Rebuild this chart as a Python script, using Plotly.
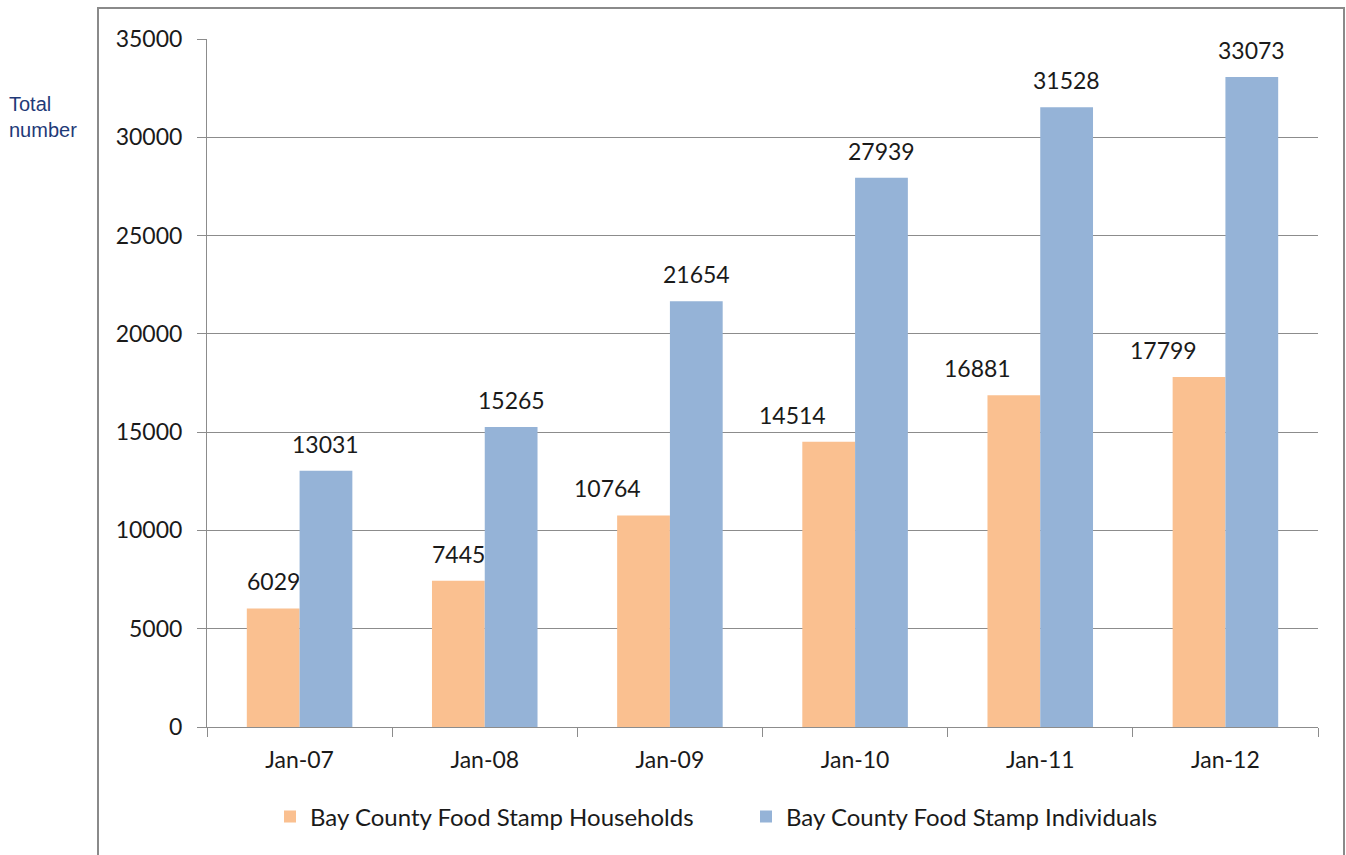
import plotly.graph_objects as go

categories = ["Jan-07", "Jan-08", "Jan-09", "Jan-10", "Jan-11", "Jan-12"]
households = [6029, 7445, 10764, 14514, 16881, 17799]
individuals = [13031, 15265, 21654, 27939, 31528, 33073]
series_names = ["Bay County Food Stamp Households", "Bay County Food Stamp Individuals"]
y_ticks = [0, 5000, 10000, 15000, 20000, 25000, 30000, 35000]

ORANGE = "#FAC090"
BLUE = "#95B3D7"
FONT = "Lato"
TXT = "#1a1a1a"

L, R, T, B = 207, 28, 39, 128
W, H = 1346, 855
pw, ph = W - L - R, H - T - B

fig = go.Figure()
fig.add_trace(go.Bar(x=categories, y=households, name=series_names[0],
                     marker=dict(color=ORANGE, line=dict(width=0))))
fig.add_trace(go.Bar(x=categories, y=individuals, name=series_names[1],
                     marker=dict(color=BLUE, line=dict(width=0))))

bar_px = pw / len(categories) * (1 - 0.43) / 2
annotations = []
for c, v in zip(categories, households):
    s = str(v)
    shift = -bar_px / 2
    if len(s) > 4:
        shift -= 36
    annotations.append(dict(x=c, y=v, text=s, showarrow=False, xref="x", yref="y",
                            xanchor="center", yanchor="bottom", xshift=shift, yshift=11,
                            font=dict(family=FONT, size=23, color=TXT)))
for c, v in zip(categories, individuals):
    annotations.append(dict(x=c, y=v, text=str(v), showarrow=False, xref="x", yref="y",
                            xanchor="center", yanchor="bottom", xshift=bar_px / 2, yshift=11,
                            font=dict(family=FONT, size=23, color=TXT)))
annotations.append(dict(x=(7 - L) / pw, y=(H - B - 117) / ph, xref="paper", yref="paper",
                        text="Total<br>number", showarrow=False, align="left",
                        xanchor="left", yanchor="middle",
                        font=dict(family="Liberation Sans", size=20, color="#1F3A78")))

fig.update_layout(
    width=W, height=H,
    margin=dict(l=L, r=R, t=T, b=B, pad=0),
    paper_bgcolor="white", plot_bgcolor="white",
    barmode="group", bargap=0.43, bargroupgap=0,
    font=dict(family=FONT, size=23, color=TXT),
    showlegend=True,
    legend=dict(orientation="h", x=(270 - L) / pw, xanchor="left",
                y=(-(817 - (H - B)) / ph), yanchor="middle",
                font=dict(family=FONT, size=24, color=TXT),
                itemwidth=30, entrywidth=431, entrywidthmode="pixels",
                bgcolor="rgba(0,0,0,0)"),
    annotations=annotations,
    xaxis=dict(showline=True, linecolor="#8c8c8c", linewidth=1, ticks="outside",
               tickson="boundaries", ticklen=9, tickcolor="#8c8c8c", ticklabelstandoff=12,
               tickfont=dict(family=FONT, size=23, color=TXT), showgrid=False),
    yaxis=dict(range=[0, 35000], tickvals=y_ticks, tickformat="d", showline=True,
               linecolor="#8c8c8c", linewidth=1, ticks="outside", ticklen=9,
               tickcolor="#8c8c8c", ticklabelstandoff=10,
               showgrid=True, gridcolor="#8c8c8c", gridwidth=1, zeroline=False,
               tickfont=dict(family=FONT, size=23, color=TXT)),
    shapes=[dict(type="rect", xref="paper", yref="paper",
                 x0=(98 - L) / pw, x1=(1344 - L) / pw,
                 y0=-(H + 20 - (H - B)) / ph, y1=(H - B - 8) / ph,
                 line=dict(color="#8a8a8a", width=2), fillcolor="rgba(0,0,0,0)", layer="below")],
)

fig.write_html("out.html", config={"displayModeBar": False},
               post_script="document.body.style.margin='0';document.body.style.overflow='hidden';")
